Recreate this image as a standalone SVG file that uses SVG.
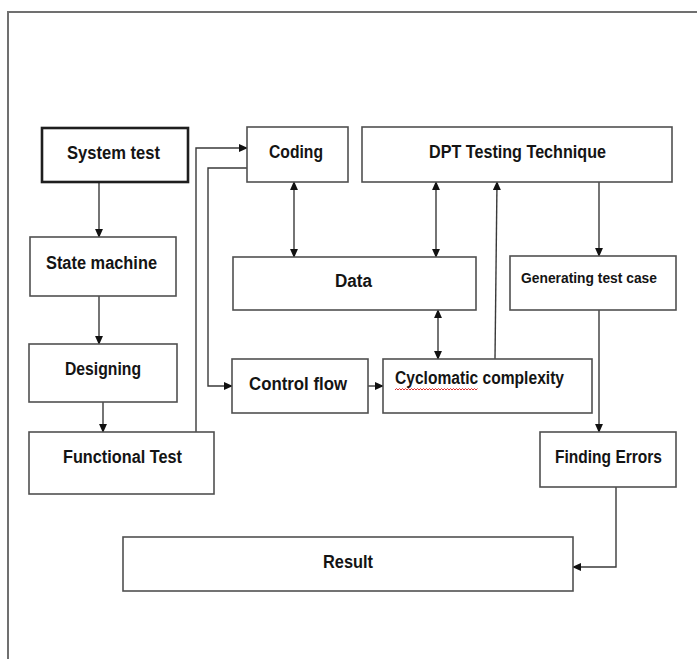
<svg xmlns="http://www.w3.org/2000/svg" width="697" height="659" viewBox="0 0 697 659">
  <style>
    .box { fill: #ffffff; stroke: #505050; stroke-width: 1.6; }
    .main { stroke: #1e1e1e; stroke-width: 2.6; }
    .lbl { font-family: "Liberation Sans", Arial, sans-serif; font-weight: bold; font-size: 18px; fill: #141414; }
    .small { font-size: 15.5px; }
    .wire { fill: none; stroke: #3a3a3a; stroke-width: 1.4; }
    .frame { fill: none; stroke: #707070; stroke-width: 2; }
  </style>
  <defs>
    <marker id="arrow" viewBox="0 0 10 10" refX="9" refY="5" markerWidth="9" markerHeight="8" orient="auto-start-reverse" markerUnits="userSpaceOnUse" preserveAspectRatio="none">
      <path d="M0,0 L10,5 L0,10 z" fill="#111"/>
    </marker>
  </defs>

  <rect width="697" height="659" fill="#ffffff"/>
  <!-- page frame: top and left edges -->
  <path class="frame" d="M8,659 V12 H697"/>

  <!-- connectors -->
  <g id="connectors">
    <line class="wire" x1="99" y1="182" x2="99" y2="237" marker-end="url(#arrow)"/>
    <line class="wire" x1="99" y1="296" x2="99" y2="344" marker-end="url(#arrow)"/>
    <line class="wire" x1="103" y1="402" x2="103" y2="432" marker-end="url(#arrow)"/>
    <polyline class="wire" points="196,432 196,148 247,148" marker-end="url(#arrow)"/>
    <polyline class="wire" points="247,168 208,168 208,386 232,386" marker-end="url(#arrow)"/>
    <line class="wire" x1="294" y1="182" x2="294" y2="257" marker-start="url(#arrow)" marker-end="url(#arrow)"/>
    <line class="wire" x1="436" y1="182" x2="436" y2="257" marker-start="url(#arrow)" marker-end="url(#arrow)"/>
    <line class="wire" x1="438" y1="310" x2="438" y2="359" marker-start="url(#arrow)" marker-end="url(#arrow)"/>
    <line class="wire" x1="495" y1="359" x2="497" y2="182" marker-end="url(#arrow)"/>
    <line class="wire" x1="368" y1="386" x2="383" y2="386" marker-end="url(#arrow)"/>
    <line class="wire" x1="599" y1="182" x2="599" y2="256" marker-end="url(#arrow)"/>
    <line class="wire" x1="599" y1="310" x2="599" y2="432" marker-end="url(#arrow)"/>
    <polyline class="wire" points="616,487 616,567 573,567" marker-end="url(#arrow)"/>
  </g>

  <g id="system-test">
    <rect class="box main" x="42" y="128" width="146" height="54"/>
    <text class="lbl" x="67" y="159" textLength="93" lengthAdjust="spacingAndGlyphs">System test</text>
  </g>
  <g id="state-machine">
    <rect class="box" x="30" y="237" width="146" height="59"/>
    <text class="lbl" x="46" y="269" textLength="111" lengthAdjust="spacingAndGlyphs">State machine</text>
  </g>
  <g id="designing">
    <rect class="box" x="29" y="344" width="148" height="58"/>
    <text class="lbl" x="65" y="375" textLength="76" lengthAdjust="spacingAndGlyphs">Designing</text>
  </g>
  <g id="functional-test">
    <rect class="box" x="29" y="432" width="185" height="62"/>
    <text class="lbl" x="63" y="463" textLength="119" lengthAdjust="spacingAndGlyphs">Functional Test</text>
  </g>
  <g id="coding">
    <rect class="box" x="247" y="127" width="101" height="55"/>
    <text class="lbl" x="269" y="158" textLength="54" lengthAdjust="spacingAndGlyphs">Coding</text>
  </g>
  <g id="dpt-testing-technique">
    <rect class="box" x="362" y="127" width="310" height="55"/>
    <text class="lbl" x="429" y="158" textLength="177" lengthAdjust="spacingAndGlyphs">DPT Testing Technique</text>
  </g>
  <g id="data">
    <rect class="box" x="233" y="257" width="243" height="53"/>
    <text class="lbl" x="335" y="287" textLength="37" lengthAdjust="spacingAndGlyphs">Data</text>
  </g>
  <g id="generating-test-case">
    <rect class="box" x="510" y="256" width="166" height="54"/>
    <text class="lbl small" x="521" y="283" textLength="136" lengthAdjust="spacingAndGlyphs">Generating test case</text>
  </g>
  <g id="control-flow">
    <rect class="box" x="232" y="359" width="136" height="54"/>
    <text class="lbl" x="249" y="390" textLength="98" lengthAdjust="spacingAndGlyphs">Control flow</text>
  </g>
  <g id="cyclomatic-complexity">
    <rect class="box" x="383" y="359" width="209" height="54"/>
    <text class="lbl" x="395" y="384" textLength="169" lengthAdjust="spacingAndGlyphs">Cyclomatic complexity</text>
    <!-- spell-check squiggle under the first word -->
    <path d="M395,390 l1.5,-1.5 l1.5,1.5 l1.5,-1.5 l1.5,1.5 l1.5,-1.5 l1.5,1.5 l1.5,-1.5 l1.5,1.5 l1.5,-1.5 l1.5,1.5 l1.5,-1.5 l1.5,1.5 l1.5,-1.5 l1.5,1.5 l1.5,-1.5 l1.5,1.5 l1.5,-1.5 l1.5,1.5 l1.5,-1.5 l1.5,1.5 l1.5,-1.5 l1.5,1.5 l1.5,-1.5 l1.5,1.5 l1.5,-1.5 l1.5,1.5 l1.5,-1.5 l1.5,1.5 l1.5,-1.5 l1.5,1.5 l1.5,-1.5 l1.5,1.5 l1.5,-1.5 l1.5,1.5 l1.5,-1.5 l1.5,1.5 l1.5,-1.5 l1.5,1.5 l1.5,-1.5 l1.5,1.5 l1.5,-1.5 l1.5,1.5 l1.5,-1.5 l1.5,1.5 l1.5,-1.5 l1.5,1.5 l1.5,-1.5 l1.5,1.5 l1.5,-1.5 l1.5,1.5 l1.5,-1.5 l1.5,1.5 l1.5,-1.5 l1.5,1.5 l1.5,-1.5" fill="none" stroke="#e03030" stroke-width="1"/>
  </g>
  <g id="finding-errors">
    <rect class="box" x="540" y="432" width="136" height="55"/>
    <text class="lbl" x="555" y="463" textLength="107" lengthAdjust="spacingAndGlyphs">Finding Errors</text>
  </g>
  <g id="result">
    <rect class="box" x="123" y="537" width="450" height="54"/>
    <text class="lbl" x="323" y="568" textLength="50" lengthAdjust="spacingAndGlyphs">Result</text>
  </g>
</svg>
